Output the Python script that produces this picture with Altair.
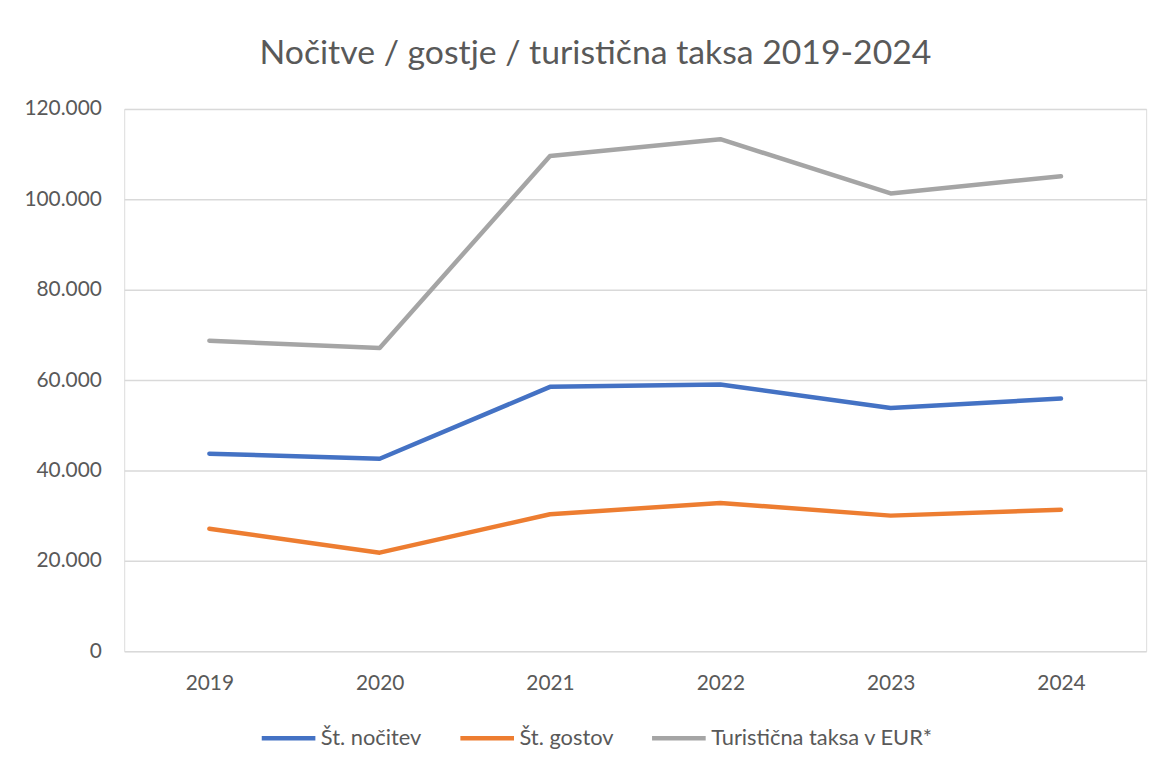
import altair as alt
import pandas as pd

years = ["2019", "2020", "2021", "2022", "2023", "2024"]
nocitve = [43700, 42600, 58500, 59000, 53800, 55900]
gostje = [27100, 21800, 30300, 32800, 30000, 31300]
taksa = [68700, 67100, 109600, 113300, 101300, 105100]
series_names = ["Št. nočitev", "Št. gostov", "Turistična taksa v EUR*"]
colors = ["#4472C4", "#ED7D31", "#A5A5A5"]

rows = []
for name, vals in zip(series_names, [nocitve, gostje, taksa]):
    for y, v in zip(years, vals):
        rows.append({"leto": y, "serija": name, "vrednost": v})
df = pd.DataFrame(rows)

FONT = "Lato"
GREY_TXT = "#595959"

chart = (
    alt.Chart(df)
    .mark_line(strokeWidth=4.5, strokeCap="round", strokeJoin="round")
    .encode(
        x=alt.X(
            "leto:O",
            title=None,
            scale=alt.Scale(type="point", padding=0.5),
            sort=years,
            axis=alt.Axis(
                labelAngle=0,
                labelFontSize=21,
                labelColor=GREY_TXT,
                labelFont=FONT,
                labelPadding=22,
                ticks=False,
                domain=False,
                grid=False,
            ),
        ),
        y=alt.Y(
            "vrednost:Q",
            title=None,
            scale=alt.Scale(domain=[0, 120000], nice=False),
            axis=alt.Axis(
                values=[0, 20000, 40000, 60000, 80000, 100000, 120000],
                labelExpr="replace(format(datum.value, ','), ',', '.')",
                labelFontSize=21,
                labelColor=GREY_TXT,
                labelFont=FONT,
                labelPadding=23,
                ticks=False,
                domain=False,
                grid=True,
                gridColor="#D9D9D9",
                gridWidth=1.5,
            ),
        ),
        color=alt.Color(
            "serija:N",
            sort=series_names,
            scale=alt.Scale(domain=series_names, range=colors),
            legend=alt.Legend(
                title=None,
                orient="none",
                legendX=136,
                legendY=604,
                direction="horizontal",
                symbolType="stroke",
                symbolStrokeWidth=4.5,
                symbolSize=2916,
                labelFontSize=22,
                labelColor=GREY_TXT,
                labelFont=FONT,
                labelLimit=0,
                columnPadding=29,
                symbolOffset=0,
                labelOffset=3,
            ),
        ),
    )
    .properties(
        width=1029,
        height=546,
        padding={"left": 117, "top": 99, "right": 22, "bottom": 116},
        autosize=alt.AutoSizeParams(type="none"),
        title=alt.TitleParams(
            "Nočitve / gostje / turistična taksa 2019-2024",
            fontSize=34,
            fontWeight="normal",
            font=FONT,
            color=GREY_TXT,
            anchor="middle",
            baseline="alphabetic",
            dx=-40,
            offset=0,
        ),
    )
    .configure_view(stroke=None)
    .configure(background="white")
)

chart.save("out.html", embed_options={"renderer": "svg", "actions": False})
